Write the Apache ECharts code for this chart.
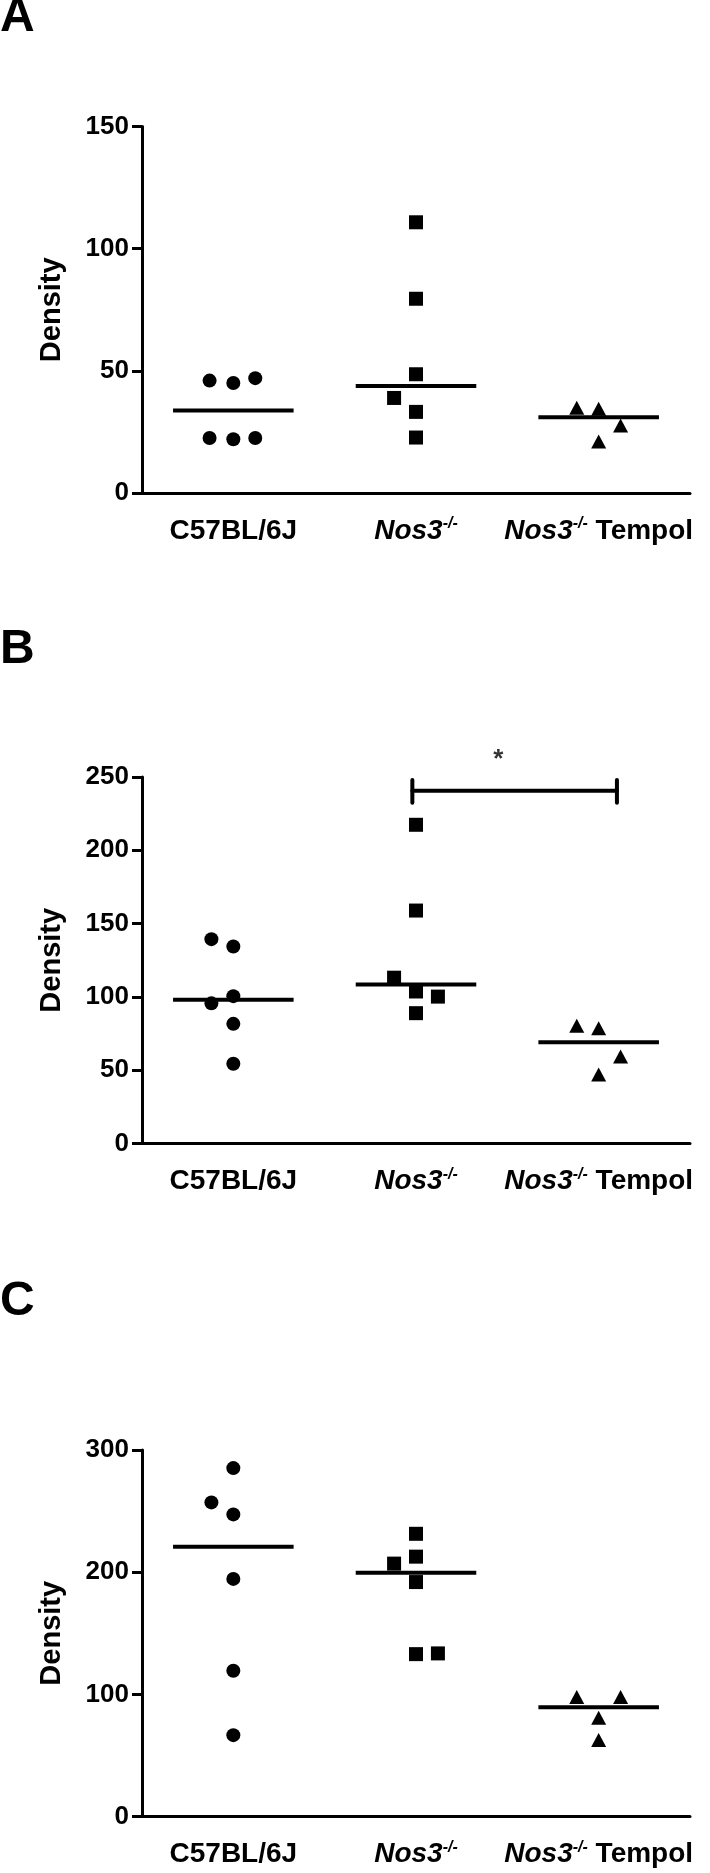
<!DOCTYPE html>
<html>
<head>
<meta charset="utf-8">
<script src="https://cdn.jsdelivr.net/npm/echarts@6/dist/echarts.min.js"></script>
<style>
html,body{margin:0;padding:0;background:#fff;}
#c{width:710px;height:1873px;}
</style>
</head>
<body>
<div id="c"></div>
<script>
// ---- data ----
const categories = ['C57BL/6J', 'Nos3-/-', 'Nos3-/- Tempol'];
const panelLetters = ['A', 'B', 'C'];
const yMax = [150, 250, 300];
const yInterval = [50, 50, 100];
const yTitle = 'Density';

// Panel A
const aWildVals = [46, 45, 47, 22.5, 22, 22.5];
const aWildJit  = [-0.13, 0, 0.12, -0.13, 0, 0.12];
const aKoVals   = [110.8, 79.5, 48.6, 38.9, 33.2, 22.7];
const aKoJit    = [0, 0, 0, -0.12, 0, 0];
const aTemVals  = [34.9, 34.5, 27.6, 21.1];
const aTemJit   = [-0.12, 0, 0.12, 0];
// Panel B
const bWildVals = [139.4, 134.4, 100.5, 95.6, 81.6, 54.4];
const bWildJit  = [-0.12, 0, 0, -0.12, 0, 0];
const bKoVals   = [217.4, 158.9, 113.1, 103.7, 100.2, 88.9];
const bKoJit    = [0, 0, -0.12, 0, 0.12, 0];
const bTemVals  = [80.3, 78.7, 59.3, 47.1];
const bTemJit   = [-0.12, 0, 0.12, 0];
// Panel C
const cWildVals = [285.2, 257.1, 247.3, 194.5, 119.3, 66.6];
const cWildJit  = [0, -0.12, 0, 0, 0, 0];
const cKoVals   = [231.4, 207, 212.7, 191.9, 132.9, 133.5];
const cKoJit    = [0, -0.12, 0, 0, 0, 0.12];
const cTemVals  = [97.9, 97.9, 80.8, 62.6];
const cTemJit   = [-0.12, 0.12, 0, 0];

// significance bracket in panel B (Nos3-/- vs Nos3-/- Tempol)
const sigFrom = 0.98, sigTo = 2.1, sigY = 240.6, sigTickTop = 248, sigTickBot = 232.5;
const sigLabel = '*', sigLabelX = 1.45, sigLabelY = 261.5;

const panels = [
  [[aWildVals, aWildJit], [aKoVals, aKoJit], [aTemVals, aTemJit]],
  [[bWildVals, bWildJit], [bKoVals, bKoJit], [bTemVals, bTemJit]],
  [[cWildVals, cWildJit], [cKoVals, cKoJit], [cTemVals, cTemJit]]
];

// ---- layout ----
const FONT = "'Liberation Sans', Arial, sans-serif";
const gridTops = [126.5, 777, 1450];
const gridH = 366.5;
const gridLeft = 142, gridW = 548;
const titleTops = [-6, 626, 1278];
const symbols = ['circle', 'rect', 'triangle'];
const symSizes = [14, 14, [15, 14]];
const halfWidth = 0.33;

function median(a) {
  const s = a.slice().sort((x, y) => x - y);
  const n = s.length;
  return n % 2 ? s[(n - 1) / 2] : (s[n / 2 - 1] + s[n / 2]) / 2;
}

const grid = [], xAxis = [], yAxis = [], series = [], title = [];
for (let p = 0; p < 3; p++) {
  grid.push({ left: gridLeft, width: gridW, top: gridTops[p], height: gridH, outerBoundsMode: 'none', containLabel: false });
  title.push({ text: panelLetters[p], left: 0, top: titleTops[p], padding: 0,
    textStyle: { fontFamily: FONT, fontSize: 48, fontWeight: 'bold', color: '#000' } });
}
for (let p = 0; p < 3; p++) {
  xAxis.push({
    type: 'category', gridIndex: p, data: categories, boundaryGap: true,
    axisLine: { onZero: false, lineStyle: { color: '#000', width: 3 } },
    axisTick: { alignWithLabel: true, length: 11, lineStyle: { color: '#000', width: 3 } },
    axisLabel: {
      margin: 23, interval: 0,
      formatter: function (v) {
        if (v.indexOf('Nos3-/-') === 0) {
          const rest = v.slice(7);
          return '{i|Nos3}{s|-/-}' + (rest ? '{b|' + rest + '}' : '');
        }
        return '{b|' + v + '}';
      },
      rich: {
        b: { fontFamily: FONT, fontSize: 28, fontWeight: 'bold', color: '#000', lineHeight: 30 },
        i: { fontFamily: FONT, fontSize: 28, fontWeight: 'bold', fontStyle: 'italic', color: '#000', lineHeight: 30 },
        s: { fontFamily: FONT, fontSize: 16, fontWeight: 'bold', fontStyle: 'italic', color: '#000', lineHeight: 16, verticalAlign: 'top' }
      }
    },
    splitLine: { show: false }
  });
}
for (let p = 0; p < 3; p++) {
  xAxis.push({ type: 'value', gridIndex: p, min: -0.5, max: 2.5, show: false, splitLine: { show: false } });
}
for (let p = 0; p < 3; p++) {
  yAxis.push({
    type: 'value', gridIndex: p, min: 0, max: yMax[p], interval: yInterval[p],
    name: yTitle, nameLocation: 'middle', nameGap: 76,
    nameTextStyle: { fontFamily: FONT, fontSize: 29, fontWeight: 'bold', color: '#000' },
    axisLine: { show: true, onZero: false, lineStyle: { color: '#000', width: 3 } },
    axisTick: { show: true, length: 10, lineStyle: { color: '#000', width: 3 } },
    axisLabel: { margin: 13, fontFamily: FONT, fontSize: 26, fontWeight: 'bold', color: '#000' },
    splitLine: { show: false }
  });
}
for (let p = 0; p < 3; p++) {
  for (let g = 0; g < 3; g++) {
    const vals = panels[p][g][0], jit = panels[p][g][1];
    series.push({
      type: 'scatter', xAxisIndex: 3 + p, yAxisIndex: p,
      symbol: symbols[g], symbolSize: symSizes[g],
      itemStyle: { color: '#000', opacity: 1 },
      data: vals.map((v, k) => [g + jit[k], v]),
      silent: true, z: 3
    });
    const m = median(vals);
    series.push({
      type: 'line', xAxisIndex: 3 + p, yAxisIndex: p, symbol: 'none',
      lineStyle: { color: '#000', width: 4 },
      data: [[g - halfWidth, m], [g + halfWidth, m]], silent: true, z: 4
    });
  }
}
// bracket in panel B
const br = [
  [[sigFrom, sigY], [sigTo, sigY]],
  [[sigFrom, sigTickBot], [sigFrom, sigTickTop]],
  [[sigTo, sigTickBot], [sigTo, sigTickTop]]
];
br.forEach(d => series.push({
  type: 'line', xAxisIndex: 4, yAxisIndex: 1, symbol: 'none', clip: false,
  lineStyle: { color: '#000', width: 4, cap: 'round' }, data: d, silent: true
}));
series.push({
  type: 'scatter', xAxisIndex: 4, yAxisIndex: 1, symbolSize: 2, clip: false,
  itemStyle: { color: 'rgba(0,0,0,0)' },
  data: [[sigLabelX, sigLabelY]],
  label: { show: true, position: 'inside', formatter: sigLabel, fontFamily: FONT, fontSize: 26, fontWeight: 'bold', color: '#000' },
  silent: true, z: 5
});

const chart = echarts.init(document.getElementById('c'), null, { renderer: 'canvas' });
chart.setOption({
  backgroundColor: '#fff', animation: false,
  title, grid, xAxis, yAxis, series
});
</script>
</body>
</html>
